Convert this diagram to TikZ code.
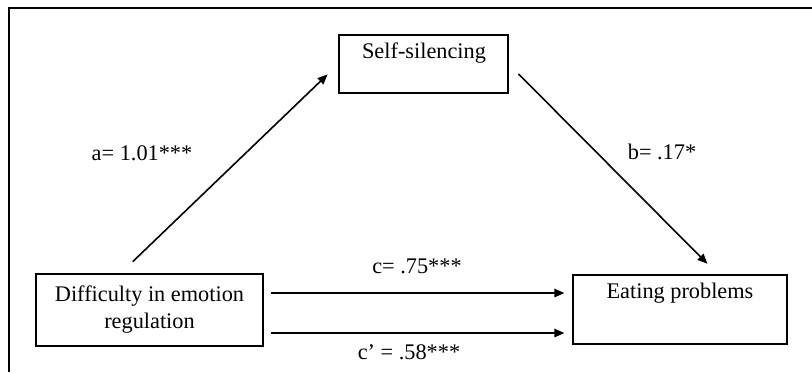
\documentclass[tikz,border=0pt]{standalone}
\usepackage{fontspec}
\setmainfont{Liberation Serif}
\usetikzlibrary{arrows.meta}

\begin{document}
\begin{tikzpicture}[x=0.5pt,y=-0.5pt,
    box/.style={draw, line width=0.6pt, align=center, inner sep=0pt},
    arr/.style={draw, line width=0.8pt, -{Triangle[length=5pt,width=4.2pt]}}]

        \useasboundingbox (0,0) rectangle (812,372);
        \draw[line width=0.75pt] (812,8) -- (9,8) -- (9,372);

        \begin{scope}[every node/.style={font=\fontsize{11.15}{13.5}\selectfont}]
          \node[box, minimum width=84.5pt, minimum height=29pt]   (self) at (423.5,64)  {};
          \node[box, minimum width=107pt,  minimum height=34.5pt] (eat)  at (680,309.5) {};
          \node[box, minimum width=113.5pt, minimum height=36pt]  (diff) at (149.5,310)
            {Difficulty in emotion\\regulation};
          \node (selftxt) at (424,53)  {Self-silencing};
          \node (eattxt)  at (680,293) {Eating problems};

          \node (la)  at (142,153) {a= 1.01***};
          \node (lb)  at (662,152) {b= .17*};
          \node (lc)  at (417,266) {c= .75***};
          \node (lcp) at (409,352) {c' = .58***};
        \end{scope}

        \begin{scope}[every edge/.style={arr}]
          \path ([xshift=-14.5pt]diff.north) edge[shorten <=8.5pt, shorten >=7.5pt] (self.west);
          \path (self.east) edge[shorten <=7pt, shorten >=7.5pt] ([xshift=19pt]eat.north);
          \path ([yshift=8.5pt]diff.east)  edge[shorten <=3.5pt, shorten >=4pt] ([yshift=8.5pt]diff.east -| eat.west);
          \path ([yshift=-11.5pt]diff.east) edge[shorten <=3.5pt, shorten >=4pt] ([yshift=-11.5pt]diff.east -| eat.west);
        \end{scope}

      \end{tikzpicture}
\end{document}
